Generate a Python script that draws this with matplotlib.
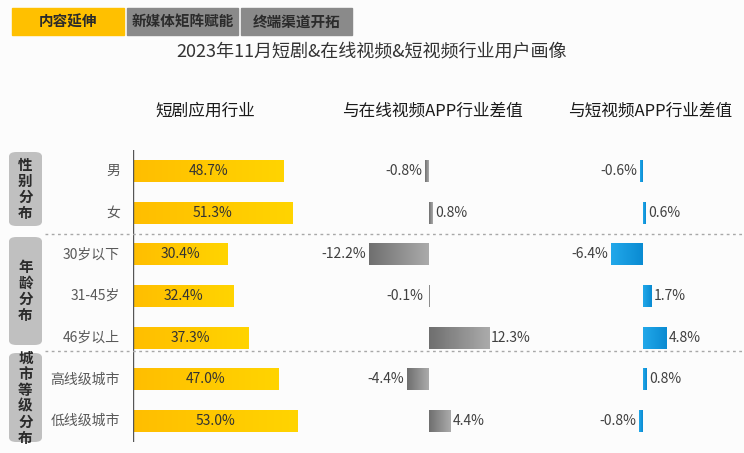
import numpy as np
import matplotlib
matplotlib.use("Agg")
import matplotlib.pyplot as plt
from matplotlib.patches import FancyBboxPatch, Rectangle
from matplotlib.lines import Line2D
from matplotlib.colors import LinearSegmentedColormap

plt.rcParams['font.family'] = ['Noto Sans CJK SC', 'DejaVu Sans']

# data
categories = ['男', '女', '30岁以下', '31-45岁', '46岁以上', '高线级城市', '低线级城市']
share = [48.7, 51.3, 30.4, 32.4, 37.3, 47.0, 53.0]
diff_online = [-0.8, 0.8, -12.2, -0.1, 12.3, -4.4, 4.4]
diff_short = [-0.6, 0.6, -6.4, 1.7, 4.8, 0.8, -0.8]
groups = ['性别分布', '年龄分布', '城市等级分布']
tabs = ['内容延伸', '新媒体矩阵赋能', '终端渠道开拓']
title = '2023年11月短剧&在线视频&短视频行业用户画像'
headers = ['短剧应用行业', '与在线视频APP行业差值', '与短视频APP行业差值']

W, H = 744, 453
fig = plt.figure(figsize=(W / 100, H / 100), dpi=100)
fig.patch.set_facecolor('#fcfcfc')


def box(x0, y0, x1, y1):
    return [x0 / W, 1 - y1 / H, (x1 - x0) / W, (y1 - y0) / H]


def fx(x):
    return x / W


def fy(y):
    return 1 - y / H


# top tabs
tab_spans = [(12, 124, '#FFC000'), (127, 238, '#8a8a8a'), (241, 352, '#8a8a8a')]
for (x0, x1, c), t in zip(tab_spans, tabs):
    fig.patches.append(Rectangle((fx(x0), fy(35)), fx(x1 - x0), 27 / H,
                                 transform=fig.transFigure, color=c, zorder=0))
    fig.text(fx((x0 + x1) / 2), fy(21.5), t, ha='center', va='center',
             fontsize=10.5, fontweight='bold', color='#2b2b2b')

fig.text(fx(372), fy(52), title, ha='center', va='center', fontsize=13, color='#333333')

for x, h in zip([205, 432, 650], headers):
    fig.text(fx(x), fy(111), h, ha='center', va='center', fontsize=12,
             color='#1a1a1a')

# group boxes on the left
group_spans = [(152, 226), (237, 345), (353, 442)]
for (y0, y1), g in zip(group_spans, groups):
    fig.patches.append(FancyBboxPatch((fx(9), fy(y1)), fx(33), (y1 - y0) / H,
                                      boxstyle='round,pad=0,rounding_size=0.01',
                                      transform=fig.transFigure, facecolor='#c0c0c0',
                                      edgecolor='none', zorder=0))
    fig.text(fx(25.5), fy((y0 + y1) / 2), '\n'.join(g), ha='center', va='center',
             fontsize=10.5, fontweight='bold', color='#2b2b2b', linespacing=1.0)

# dotted separators
for y in [234, 351]:
    fig.lines.append(Line2D([fx(45), 1], [fy(y), fy(y)], transform=fig.transFigure,
                            color='#a8a8a8', lw=1.0, ls=(0, (2, 2.5))))

rows = np.arange(len(categories))
bar_h = 0.53


def grad_bars(ax, vals, c_left, c_right):
    cmap = LinearSegmentedColormap.from_list('g', [c_left, c_right])
    bars = ax.barh(rows, vals, height=bar_h, color=c_right, zorder=2)
    for b in bars:
        x0, y0 = b.get_x(), b.get_y()
        w, h = b.get_width(), b.get_height()
        if w == 0:
            continue
        xs, xe = (x0, x0 + w) if w > 0 else (x0 + w, x0)
        im = ax.imshow(np.linspace(0, 1, 64).reshape(1, -1), cmap=cmap, aspect='auto',
                       extent=(xs, xe, y0 + h, y0), zorder=3, interpolation='bilinear')
        im.set_clip_path(b)
    return bars


def setup(ax, xlim):
    ax.set_xlim(*xlim)
    ax.set_ylim(len(categories) - 0.5, -0.5)
    ax.axis('off')
    ax.patch.set_alpha(0)


# panel 1
ax1 = fig.add_axes(box(133, 150, 340, 442))
setup(ax1, (0, 207 / 3.1))
grad_bars(ax1, share, '#FFBE00', '#FFD400')
ax1.axvline(0, color='#555555', lw=1.0, zorder=4)
for r, v in zip(rows, share):
    ax1.text(v / 2, r, f'{v:.1f}%', ha='center', va='center', fontsize=10,
             color='#333333', zorder=5)
for r, c in zip(rows, categories):
    fig.text(fx(120), fy(150 + (r + 0.5) * 292 / 7), c, ha='right', va='center',
             fontsize=10, color='#595959')

# panel 2 & 3
panel_specs = [
    (diff_online, (345, 540), 429, 4.9, '#6f6f6f', '#ababab'),
    (diff_short, (560, 742), 643, 5.0, '#22a8ea', '#0a8bd2'),
]
for vals, (x0, x1), zero, scale, cl, cr in panel_specs:
    ax = fig.add_axes(box(x0, 150, x1, 442))
    setup(ax, (-(zero - x0) / scale, (x1 - zero) / scale))
    grad_bars(ax, vals, cl, cr)
    for r, v in zip(rows, vals):
        if v < 0:
            ax.text(min(v, -0.5) - 0.6, r, f'{v:.1f}%', ha='right', va='center',
                    fontsize=10, color='#404040', zorder=5)
        else:
            ax.text(max(v, 0.5) + 0.4, r, f'{v:.1f}%', ha='left', va='center',
                    fontsize=10, color='#404040', zorder=5)

fig.savefig('out.png', dpi=100, facecolor=fig.get_facecolor())
